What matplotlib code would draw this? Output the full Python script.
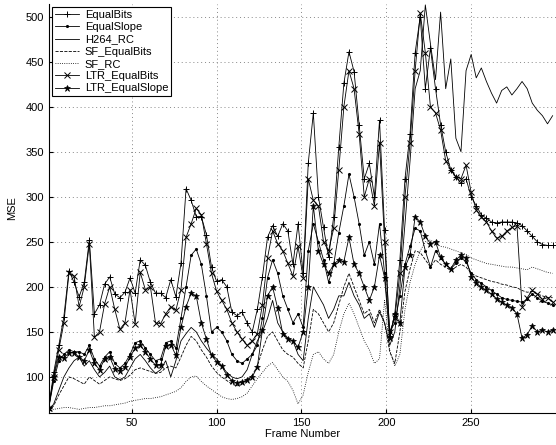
import numpy as np
import matplotlib
matplotlib.use('Agg')
import matplotlib.pyplot as plt

plt.rcParams['font.family'] = ['Liberation Sans', 'DejaVu Sans']
plt.rcParams['font.size'] = 8

# frame numbers (every third frame)
frames = np.arange(1, 301, 3)

equal_bits = [65, 105, 135, 167, 218, 205, 189, 205, 252, 170,
              180, 203, 211, 192, 188, 194, 210, 193, 230, 224,
              205, 193, 193, 188, 208, 189, 226, 309, 296, 278,
              278, 258, 222, 206, 208, 200, 172, 168, 172, 160,
              150, 175, 211, 255, 268, 256, 270, 262, 225, 270,
              215, 337, 393, 300, 266, 233, 278, 355, 426, 461,
              439, 380, 320, 337, 300, 385, 263, 145, 170, 230,
              320, 370, 460, 500, 420, 465, 420, 380, 350, 330,
              322, 315, 320, 300, 290, 280, 276, 272, 271, 272,
              272, 272, 271, 268, 262, 256, 250, 247, 246, 246]

equal_slope = [65, 95, 118, 125, 130, 128, 128, 125, 135, 120,
               112, 122, 128, 115, 110, 115, 125, 138, 140, 132,
               125, 118, 120, 138, 140, 132, 165, 200, 235, 242,
               225, 190, 150, 155, 150, 140, 125, 118, 115, 120,
               125, 135, 165, 210, 230, 215, 190, 175, 160, 170,
               155, 240, 270, 250, 230, 205, 225, 260, 290, 325,
               300, 270, 235, 250, 225, 270, 215, 150, 160, 190,
               225, 245, 265, 262, 240, 222, 240, 232, 225, 220,
               226, 232, 228, 215, 208, 204, 200, 196, 192, 188,
               186, 185, 184, 183, 186, 192, 188, 184, 182, 180]

h264_rc = [62, 70, 85, 100, 110, 118, 122, 112, 118, 108,
           100, 105, 112, 100, 97, 100, 110, 120, 125, 118,
           110, 104, 108, 118, 100, 118, 140, 148, 155, 150,
           140, 132, 125, 120, 112, 105, 100, 98, 100, 108,
           125, 140, 150, 165, 185, 160, 150, 143, 140, 125,
           118, 165, 200, 190, 180, 165, 175, 190, 190, 205,
           190, 180, 165, 170, 155, 172, 160, 135, 150, 200,
           270, 340, 420, 440, 513, 470, 430, 505, 420, 453,
           365, 350, 440, 458, 432, 443, 428, 415, 404, 418,
           422, 413, 420, 428, 420, 404, 396, 390, 381, 390]

sf_equal_bits = [62, 68, 80, 90, 100, 98, 95, 92, 100, 96,
                 92, 96, 100, 98, 96, 98, 102, 108, 110, 108,
                 106, 104, 105, 110, 112, 110, 122, 135, 145, 140,
                 130, 122, 112, 105, 100, 96, 92, 90, 92, 96,
                 102, 112, 130, 145, 150, 140, 130, 125, 122, 115,
                 110, 140, 175, 170, 160, 150, 160, 180, 200, 215,
                 200, 185, 170, 175, 160, 175, 160, 128, 115, 150,
                 195, 220, 240, 238, 230, 222, 230, 225, 222, 218,
                 222, 225, 222, 215, 212, 210, 208, 206, 205, 203,
                 202, 200, 199, 196, 194, 195, 192, 190, 188, 188]

sf_rc = [62, 64, 65, 66, 66, 65, 64, 65, 66, 66,
         67, 68, 68, 69, 70, 71, 73, 74, 75, 76,
         76, 77, 78, 80, 82, 84, 88, 95, 100, 101,
         95, 90, 86, 82, 78, 76, 75, 76, 78, 82,
         90, 98, 105, 112, 116, 108, 100, 95, 85, 70,
         80, 105, 125, 128, 120, 115, 125, 150, 170, 182,
         170, 155, 140, 130, 115, 120, 185, 130, 112, 125,
         175, 205, 225, 240, 250, 252, 248, 245, 244, 242,
         240, 238, 236, 232, 230, 228, 226, 225, 224, 223,
         222, 222, 221, 220, 219, 222, 220, 218, 216, 215]

ltr_equal_bits = [65, 100, 130, 160, 215, 212, 178, 200, 248, 144,
                  150, 181, 200, 175, 153, 160, 197, 159, 216, 197,
                  200, 160, 159, 170, 178, 174, 197, 255, 270, 287,
                  280, 248, 215, 195, 185, 175, 160, 150, 142, 135,
                  140, 148, 180, 232, 262, 248, 240, 226, 212, 245,
                  210, 320, 296, 290, 250, 240, 265, 330, 400, 440,
                  420, 370, 300, 320, 290, 360, 250, 150, 165, 215,
                  300, 360, 440, 504, 460, 400, 393, 374, 340, 330,
                  322, 320, 335, 305, 285, 278, 272, 262, 254, 256,
                  262, 266, 268, 178, 188, 196, 192, 186, 188, 183]

ltr_equal_slope = [65, 100, 122, 121, 127, 127, 122, 118, 130, 115,
                   108, 120, 122, 109, 107, 111, 122, 132, 135, 128,
                   120, 113, 113, 134, 136, 124, 155, 178, 193, 190,
                   160, 142, 124, 117, 112, 102, 96, 93, 94, 97,
                   100, 111, 152, 190, 200, 176, 148, 142, 140, 133,
                   150, 200, 290, 240, 225, 215, 225, 230, 228, 255,
                   225, 215, 200, 185, 200, 235, 210, 143, 170, 160,
                   222, 235, 278, 272, 256, 248, 250, 233, 225, 220,
                   230, 235, 232, 211, 204, 200, 196, 192, 187, 183,
                   180, 177, 170, 143, 147, 157, 150, 152, 150, 152]

fig = plt.figure(figsize=(5.56, 4.45), dpi=100)
ax = fig.add_axes([0.0874, 0.072, 0.9126, 0.919])

lw = 0.6
ms = 4.5
ax.plot(frames, equal_bits, '-+', color='black', lw=lw, ms=ms, mew=0.7, label='EqualBits')
ax.plot(frames, equal_slope, marker='.', linestyle='-', color='black', lw=lw, ms=2.5, label='EqualSlope')
ax.plot(frames, h264_rc, '-', color='black', lw=lw, label='H264_RC')
ax.plot(frames, sf_equal_bits, '--', color='black', lw=lw, label='SF_EqualBits')
ax.plot(frames, sf_rc, ':', color='black', lw=lw, label='SF_RC')
ax.plot(frames, ltr_equal_bits, '-x', color='black', lw=lw, ms=ms, mew=0.7, label='LTR_EqualBits')
ax.plot(frames, ltr_equal_slope, '-*', color='black', lw=lw, ms=ms, mew=0.5, label='LTR_EqualSlope')

ax.set_xlim(1, 300)
ax.set_ylim(60, 514)
ax.set_xticks([50, 100, 150, 200, 250])
ax.set_yticks([100, 150, 200, 250, 300, 350, 400, 450, 500])
ax.grid(True, linestyle=(0, (1, 3)), color='#888888', linewidth=0.7)
ax.set_axisbelow(True)
ax.tick_params(direction='in', length=3, labelsize=8)
ax.spines['top'].set_visible(False)
ax.spines['right'].set_visible(False)

ax.set_xlabel('Frame Number', fontsize=8, labelpad=1)
ax.set_ylabel('MSE', fontsize=8, labelpad=6)

leg = ax.legend(loc='upper left', fontsize=8, frameon=True, fancybox=False,
                edgecolor='black', handlelength=2.2, labelspacing=0.2,
                borderpad=0.25, borderaxespad=0.3, handletextpad=0.5)
leg.get_frame().set_linewidth(0.8)
leg.get_frame().set_alpha(1)

plt.savefig('out.png', dpi=100)
